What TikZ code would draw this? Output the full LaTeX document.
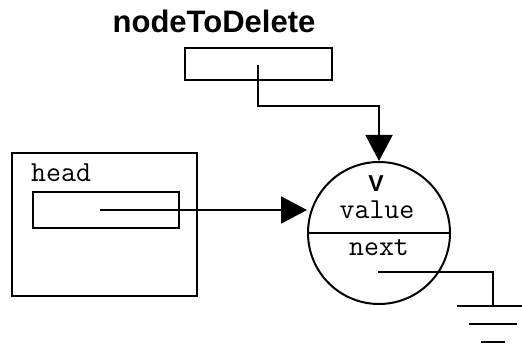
\documentclass[tikz,border=0pt]{standalone}
\usepackage{fontspec}
\setmainfont{Liberation Sans}
\usetikzlibrary{arrows.meta, positioning, calc}
\tikzset{
  ptrarrow/.style={-{Triangle[length=26pt, width=27pt]}, line width=2pt, black},
  ptrline/.style={line width=2pt, black}
}

\begin{document}
\begin{tikzpicture}[x=1pt, y=-1pt,
    varbox/.style={rectangle, draw=black, line width=2pt, inner sep=0pt},
    listnode/.style={circle, draw=black, line width=2pt, inner sep=0pt, minimum size=142pt},
    labeltext/.style={font=\fontsize{31}{34}\selectfont\bfseries, inner sep=0pt, anchor=base},
    fieldtext/.style={font=\fontsize{29}{32}\ttfamily, inner sep=0pt, anchor=base}
]
    \useasboundingbox (0, 0) rectangle (522, 347);

    % Pointer variable nodeToDelete
    \node[labeltext] (ntdlabel) at (214, 33) {nodeToDelete};
    \node[varbox, minimum width=147pt, minimum height=32pt] (ntdbox) at (258.5, 64) {};

    % Frame holding head
    \node[varbox, minimum width=185pt, minimum height=143pt] (frame) at (104.5, 224.5) {};
    \node[fieldtext, anchor=base west] (headlabel) at (31, 182) {head};
    \node[varbox, minimum width=146pt, minimum height=36pt] (headbox) at (106, 210) {};

    % List node v with value / next
    \node[listnode] (vnode) at (379, 233) {};
    \draw[ptrline] (vnode.west) -- (vnode.east);
    \node[labeltext, font=\fontsize{23}{25}\selectfont\bfseries] (vlabel) at (376, 192) {V};
    \node[fieldtext] (valuelabel) at (377, 219) {value};
    \node[fieldtext] (nextlabel) at (379, 256) {next};

    % Pointer starts and ground
    \coordinate (ntdptr) at (258, 65);
    \coordinate (bend) at (379, 106);
    \coordinate (headptr) at (100, 210);
    \coordinate (nextptr) at (378, 272);
    \coordinate (gnd) at (493, 306);

    % Arrows
    \draw[ptrarrow] (ntdptr) |- (bend) -- (vnode.north);
    \draw[ptrarrow] (headptr) -- (headptr -| vnode.west);
    \draw[ptrline] (nextptr) -| (gnd);
    \foreach \w/\dy in {36/0, 24/18, 12/36}
        \draw[ptrline] ($(gnd)+(-\w, \dy)$) -- ($(gnd)+(\w, \dy)$);
\end{tikzpicture}
\end{document}
